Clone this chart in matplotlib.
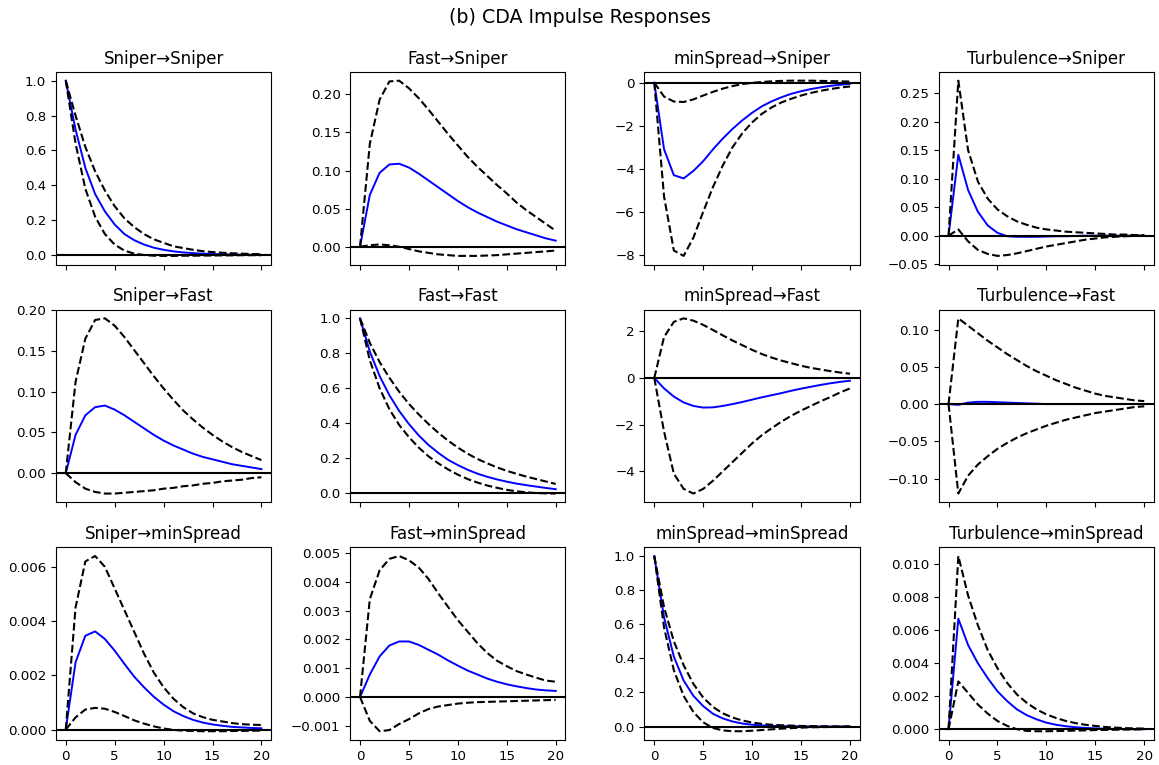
import numpy as np
import matplotlib
matplotlib.use("Agg")
import matplotlib.pyplot as plt

# variable names (impulse in columns, response in rows)
names = ["Sniper", "Fast", "minSpread", "Turbulence"]
steps = list(range(21))

# --- response: Sniper ---
sniper_sniper = [1.0, 0.72, 0.5, 0.35, 0.25, 0.175, 0.12, 0.085, 0.06, 0.042, 0.03,
                 0.021, 0.015, 0.011, 0.008, 0.006, 0.004, 0.003, 0.002, 0.0015, 0.001]
sniper_sniper_lo = [1.0, 0.64, 0.38, 0.22, 0.12, 0.06, 0.025, 0.008, 0.0, -0.004, -0.005,
                    -0.005, -0.004, -0.004, -0.003, -0.003, -0.002, -0.002, -0.001, -0.001, -0.001]
sniper_sniper_hi = [1.0, 0.8, 0.62, 0.48, 0.37, 0.28, 0.21, 0.16, 0.12, 0.09, 0.07,
                    0.05, 0.04, 0.03, 0.022, 0.017, 0.013, 0.01, 0.008, 0.006, 0.005]

fast_sniper = [0, 0.068, 0.097, 0.108, 0.109, 0.104, 0.096, 0.087, 0.078, 0.069, 0.060,
               0.052, 0.045, 0.039, 0.033, 0.028, 0.023, 0.019, 0.015, 0.011, 0.008]
fast_sniper_lo = [0, 0.002, 0.003, 0.002, 0.0, -0.003, -0.006, -0.008, -0.010, -0.011, -0.012,
                  -0.012, -0.012, -0.0115, -0.011, -0.010, -0.009, -0.008, -0.007, -0.006, -0.005]
fast_sniper_hi = [0, 0.135, 0.193, 0.217, 0.218, 0.208, 0.195, 0.180, 0.164, 0.148, 0.133,
                  0.118, 0.105, 0.093, 0.081, 0.070, 0.058, 0.048, 0.039, 0.030, 0.021]

spread_sniper = [0, -3.1, -4.3, -4.45, -4.1, -3.65, -3.1, -2.6, -2.15, -1.75, -1.4,
                 -1.1, -0.87, -0.68, -0.52, -0.4, -0.3, -0.22, -0.15, -0.1, -0.06]
spread_sniper_lo = [0, -5.3, -7.8, -8.05, -7.2, -6.0, -4.85, -3.85, -3.0, -2.35, -1.85,
                    -1.45, -1.15, -0.92, -0.75, -0.6, -0.48, -0.38, -0.3, -0.23, -0.18]
spread_sniper_hi = [0, -0.65, -0.88, -0.9, -0.78, -0.6, -0.43, -0.28, -0.16, -0.07, -0.01,
                    0.03, 0.06, 0.08, 0.09, 0.09, 0.09, 0.08, 0.07, 0.06, 0.05]

turb_sniper = [0, 0.142, 0.08, 0.042, 0.018, 0.005, -0.001, -0.002, -0.002, -0.002, -0.0015,
               -0.001, -0.001, -0.0005, 0, 0, 0, 0, 0, 0, 0]
turb_sniper_lo = [0, 0.011, -0.01, -0.025, -0.032, -0.0355, -0.034, -0.031, -0.027, -0.023, -0.019,
                  -0.016, -0.013, -0.01, -0.007, -0.005, -0.003, -0.002, -0.001, -0.0005, 0.0]
turb_sniper_hi = [0, 0.272, 0.15, 0.095, 0.065, 0.046, 0.034, 0.025, 0.019, 0.014, 0.011,
                  0.009, 0.007, 0.006, 0.005, 0.004, 0.003, 0.002, 0.002, 0.001, 0.001]

# --- response: Fast ---
sniper_fast = [0, 0.047, 0.071, 0.081, 0.083, 0.078, 0.071, 0.063, 0.055, 0.047, 0.040,
               0.034, 0.029, 0.024, 0.020, 0.017, 0.014, 0.011, 0.009, 0.007, 0.005]
sniper_fast_lo = [0, -0.011, -0.019, -0.023, -0.025, -0.025, -0.024, -0.023, -0.022, -0.021, -0.019,
                  -0.018, -0.016, -0.015, -0.013, -0.012, -0.010, -0.009, -0.008, -0.006, -0.005]
sniper_fast_hi = [0, 0.112, 0.165, 0.188, 0.19, 0.181, 0.167, 0.151, 0.135, 0.119, 0.104,
                  0.09, 0.077, 0.066, 0.056, 0.047, 0.039, 0.032, 0.026, 0.021, 0.016]

fast_fast = [1.0, 0.81, 0.67, 0.56, 0.47, 0.395, 0.33, 0.275, 0.23, 0.19, 0.16,
             0.133, 0.111, 0.093, 0.078, 0.065, 0.054, 0.045, 0.037, 0.029, 0.022]
fast_fast_lo = [1.0, 0.76, 0.6, 0.48, 0.39, 0.32, 0.26, 0.21, 0.17, 0.135, 0.105,
                0.08, 0.06, 0.043, 0.03, 0.018, 0.01, 0.004, 0.0, -0.002, -0.003]
fast_fast_hi = [1.0, 0.86, 0.75, 0.66, 0.58, 0.51, 0.45, 0.395, 0.345, 0.30, 0.26,
                0.225, 0.195, 0.17, 0.147, 0.127, 0.11, 0.094, 0.08, 0.066, 0.052]

spread_fast = [0, -0.45, -0.8, -1.05, -1.2, -1.27, -1.26, -1.2, -1.12, -1.03, -0.93,
               -0.83, -0.74, -0.65, -0.55, -0.46, -0.38, -0.3, -0.23, -0.17, -0.12]
spread_fast_lo = [0, -2.3, -4.1, -4.75, -4.95, -4.75, -4.4, -4.0, -3.6, -3.2, -2.8,
                  -2.45, -2.15, -1.87, -1.62, -1.4, -1.2, -1.0, -0.82, -0.62, -0.45]
spread_fast_hi = [0, 1.75, 2.4, 2.55, 2.45, 2.27, 2.05, 1.82, 1.6, 1.4, 1.2,
                  1.02, 0.87, 0.74, 0.63, 0.52, 0.43, 0.36, 0.29, 0.23, 0.18]

turb_fast = [0, -0.001, 0.002, 0.003, 0.003, 0.0025, 0.002, 0.0015, 0.001, 0.0005, 0,
             0, 0, 0, 0, 0, 0, 0, 0, 0, 0]
turb_fast_lo = [0, -0.12, -0.096, -0.081, -0.07, -0.06, -0.052, -0.045, -0.039, -0.034, -0.029,
                -0.025, -0.021, -0.018, -0.015, -0.012, -0.01, -0.008, -0.006, -0.004, -0.003]
turb_fast_hi = [0, 0.115, 0.105, 0.095, 0.085, 0.076, 0.067, 0.059, 0.051, 0.044, 0.038,
                0.032, 0.027, 0.022, 0.018, 0.014, 0.011, 0.009, 0.007, 0.005, 0.004]

# --- response: minSpread ---
sniper_spread = [0, 0.00248, 0.00346, 0.00362, 0.00334, 0.00291, 0.00242, 0.00195, 0.00156, 0.00121, 0.00092,
                 0.00068, 0.0005, 0.00036, 0.00026, 0.00019, 0.00014, 0.0001, 0.00008, 0.00006, 0.00005]
sniper_spread_lo = [0, 0.00045, 0.00074, 0.0008, 0.00077, 0.00065, 0.0005, 0.00034, 0.00022, 0.00012, 0.00004,
                    -0.00001, -0.00004, -0.00005, -0.00006, -0.00006, -0.00006, -0.00005, -0.00005, -0.00004, -0.00004]
sniper_spread_hi = [0, 0.0045, 0.0062, 0.0064, 0.006, 0.0052, 0.0044, 0.0036, 0.0028, 0.0021, 0.00156,
                    0.00114, 0.00083, 0.0006, 0.00046, 0.00036, 0.0003, 0.00024, 0.0002, 0.00018, 0.00017]

fast_spread = [0, 0.00078, 0.00141, 0.00179, 0.00193, 0.00193, 0.00181, 0.00164, 0.00147, 0.00127, 0.00109,
               0.00092, 0.00078, 0.00064, 0.00053, 0.00044, 0.00037, 0.00031, 0.00026, 0.00023, 0.00021]
fast_spread_lo = [0, -0.00083, -0.00119, -0.00115, -0.00094, -0.00077, -0.00057, -0.00042, -0.00033, -0.00028, -0.00023,
                  -0.0002, -0.00018, -0.00017, -0.00016, -0.00015, -0.00014, -0.00013, -0.00012, -0.00011, -0.0001]
fast_spread_hi = [0, 0.0034, 0.0044, 0.0048, 0.0049, 0.00475, 0.0045, 0.0041, 0.0036, 0.00313, 0.00267,
                  0.00227, 0.00187, 0.00153, 0.00126, 0.00107, 0.0009, 0.00078, 0.00067, 0.00057, 0.00053]

spread_spread = [1.0, 0.64, 0.41, 0.27, 0.18, 0.12, 0.075, 0.048, 0.03, 0.018, 0.011,
                 0.007, 0.004, 0.003, 0.002, 0.0012, 0.0008, 0.0005, 0.0003, 0.0002, 0.0001]
spread_spread_lo = [1.0, 0.58, 0.33, 0.18, 0.085, 0.025, -0.008, -0.022, -0.027, -0.027, -0.024,
                    -0.02, -0.016, -0.012, -0.009, -0.006, -0.004, -0.003, -0.002, -0.001, -0.001]
spread_spread_hi = [1.0, 0.7, 0.5, 0.36, 0.25, 0.17, 0.115, 0.078, 0.053, 0.036, 0.024,
                    0.016, 0.011, 0.008, 0.006, 0.004, 0.003, 0.002, 0.0015, 0.001, 0.001]

turb_spread = [0, 0.0067, 0.0051, 0.004, 0.0031, 0.0023, 0.0017, 0.0012, 0.00085, 0.0006, 0.0004,
               0.00027, 0.00018, 0.00012, 0.00008, 0.00005, 0.00003, 0.00002, 0.00001, 0.0, 0.0]
turb_spread_lo = [0, 0.0029, 0.0022, 0.0015, 0.00095, 0.0005, 0.0002, 0.0, -0.0001, -0.00012, -0.00012,
                  -0.00011, -0.0001, -0.00008, -0.00007, -0.00005, -0.00004, -0.00003, -0.00002, -0.00001, 0.0]
turb_spread_hi = [0, 0.0105, 0.0081, 0.0063, 0.0048, 0.0037, 0.0028, 0.0021, 0.0016, 0.0012, 0.0009,
                  0.00068, 0.0005, 0.00037, 0.00027, 0.0002, 0.00014, 0.0001, 0.00007, 0.00005, 0.00004]

# grid of (irf, lower, upper), rows = response, cols = impulse
grid = [
    [(sniper_sniper, sniper_sniper_lo, sniper_sniper_hi),
     (fast_sniper, fast_sniper_lo, fast_sniper_hi),
     (spread_sniper, spread_sniper_lo, spread_sniper_hi),
     (turb_sniper, turb_sniper_lo, turb_sniper_hi)],
    [(sniper_fast, sniper_fast_lo, sniper_fast_hi),
     (fast_fast, fast_fast_lo, fast_fast_hi),
     (spread_fast, spread_fast_lo, spread_fast_hi),
     (turb_fast, turb_fast_lo, turb_fast_hi)],
    [(sniper_spread, sniper_spread_lo, sniper_spread_hi),
     (fast_spread, fast_spread_lo, fast_spread_hi),
     (spread_spread, spread_spread_lo, spread_spread_hi),
     (turb_spread, turb_spread_lo, turb_spread_hi)],
]

fig, axes = plt.subplots(3, 4, figsize=(11.59, 7.65), dpi=100, sharex=True)
fig.subplots_adjust(left=0.0483, right=0.9957, bottom=0.0327, top=0.906,
                    wspace=0.367, hspace=0.233)

for i in range(3):
    for j in range(4):
        ax = axes[i, j]
        irf, lo, hi = grid[i][j]
        ax.plot(steps, irf, color='b', lw=1.4)
        ax.plot(steps, lo, 'k--', lw=1.5)
        ax.plot(steps, hi, 'k--', lw=1.5)
        ax.axhline(0, color='k', lw=1.5)
        ax.set_title(f"{names[j]}\u2192{names[i]}", fontsize=12)
        ax.set_xticks([0, 5, 10, 15, 20])
        ax.tick_params(labelsize=9.6)

fig.suptitle("(b) CDA Impulse Responses", fontsize=13.7, y=0.99)
fig.savefig("out.png", dpi=100)
